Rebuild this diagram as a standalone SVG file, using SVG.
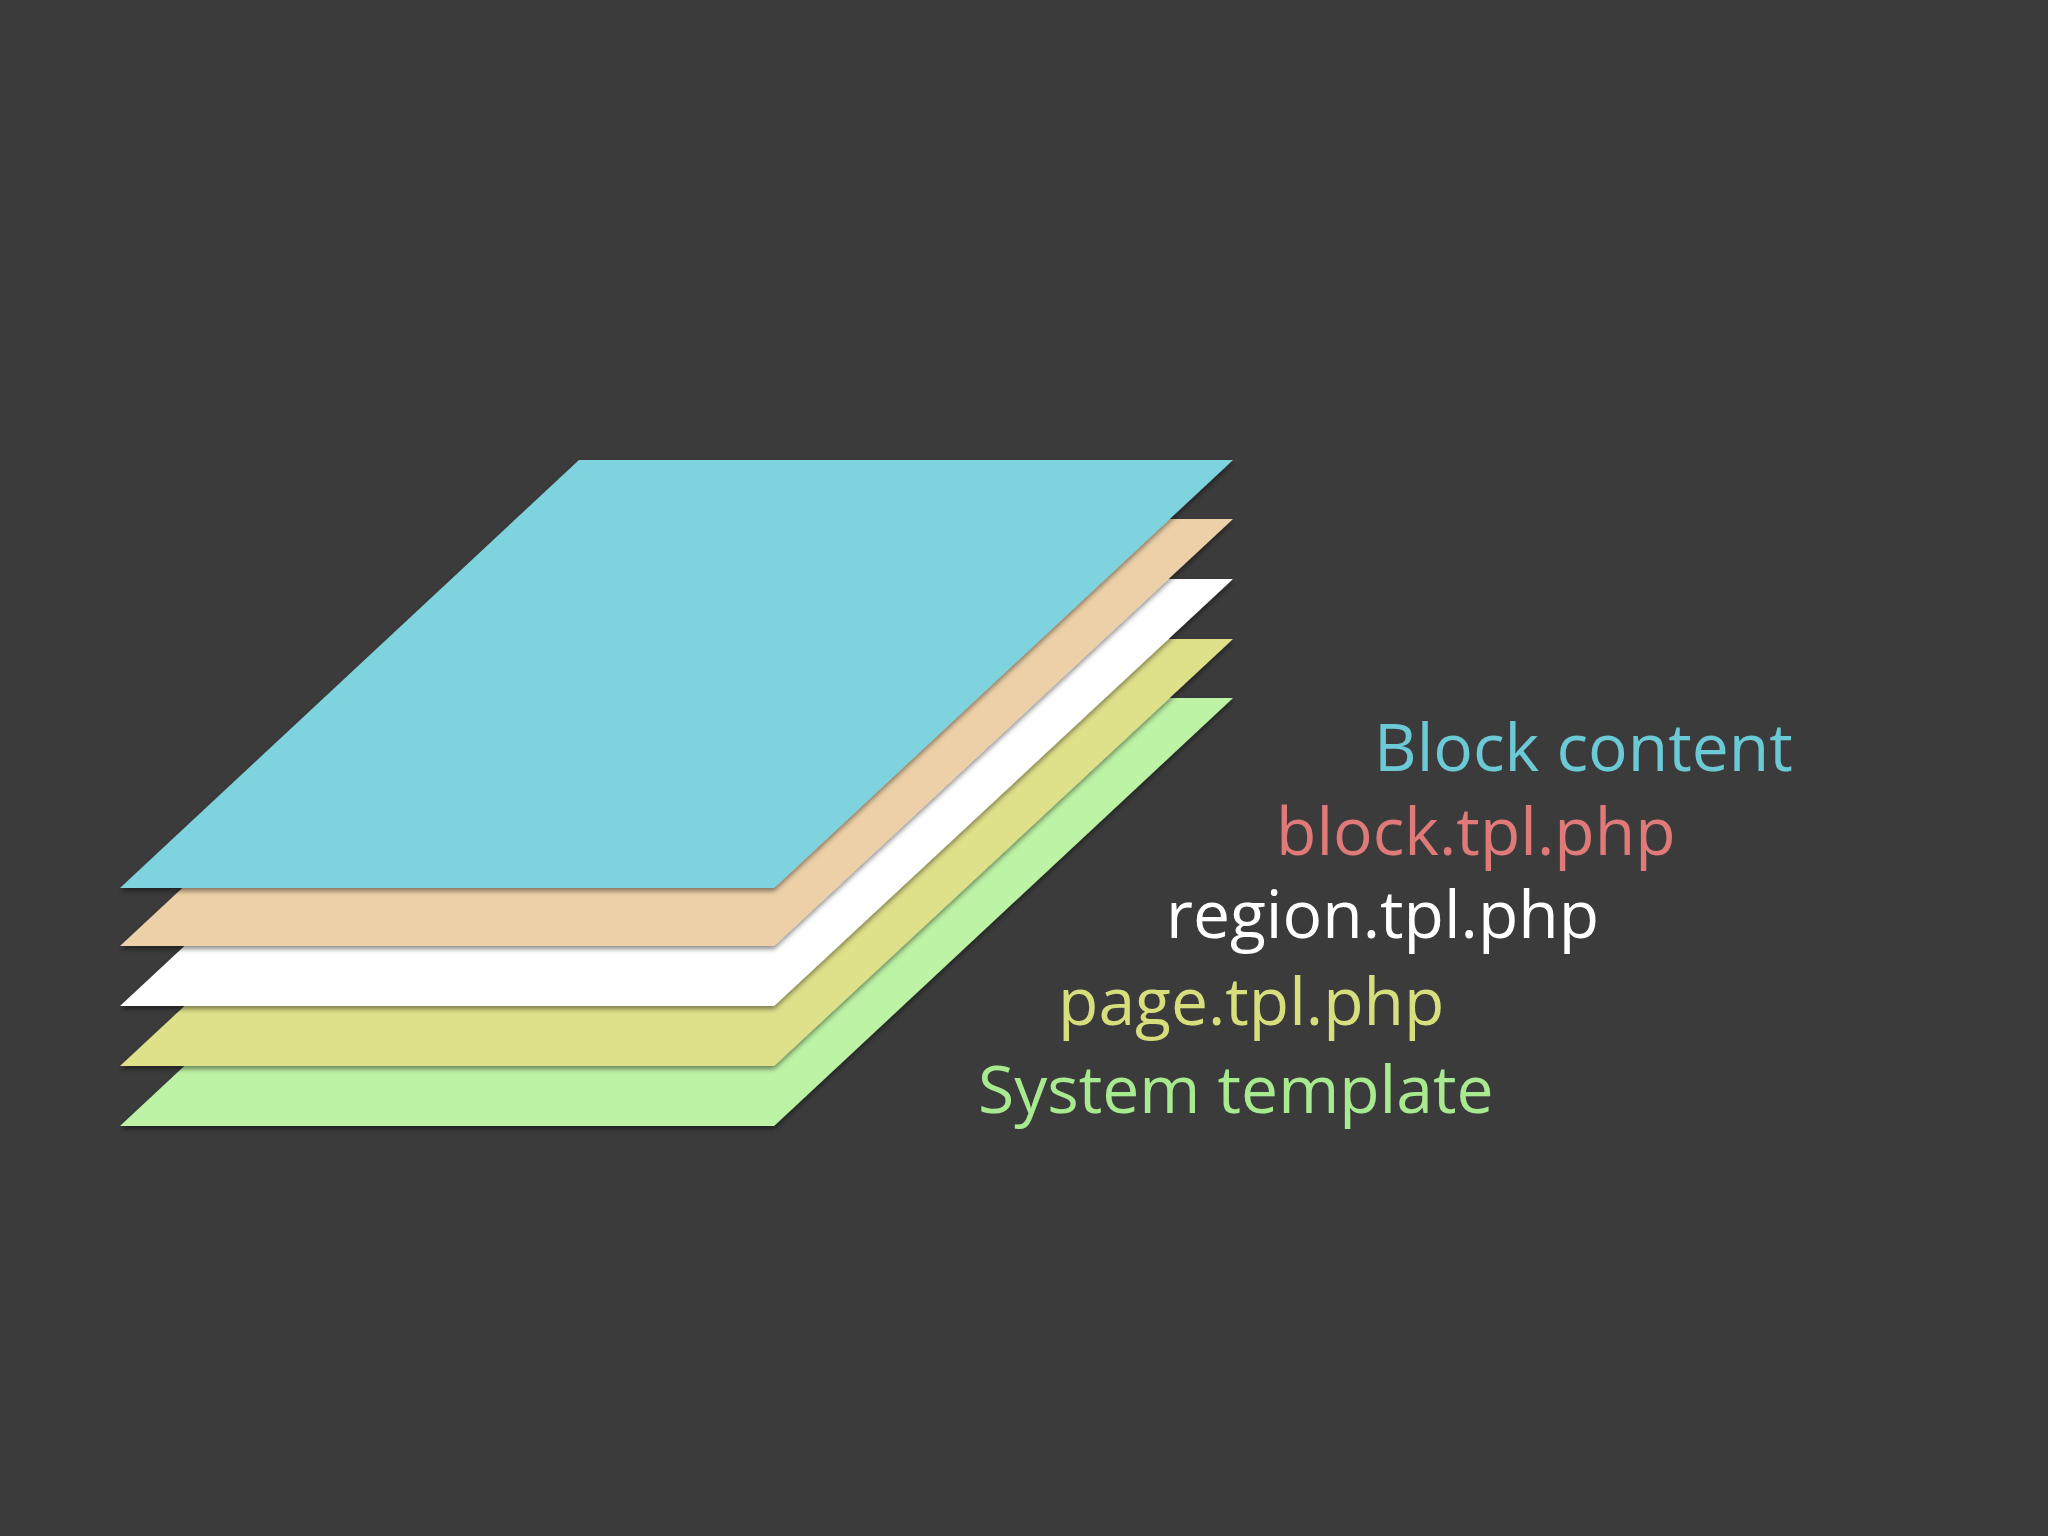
<svg xmlns="http://www.w3.org/2000/svg" width="2048" height="1536" viewBox="0 0 2048 1536">
<defs>
<filter id="sh" x="-10%" y="-10%" width="120%" height="130%">
<feDropShadow dx="0" dy="3" stdDeviation="2.5" flood-color="#000" flood-opacity="0.45"/>
</filter>
</defs>
<style>
.l{filter:url(#sh)}
text{font-family:"Open Sans","Noto Sans",sans-serif;font-size:66px}
</style>
<rect width="2048" height="1536" fill="#3b3b3c"/>
<g id="layer-system"><polygon class="l" points="579,698 1233,698 774,1126 120,1126" fill="#bdf3a5"/></g>
<g id="layer-page"><polygon class="l" points="579,639 1233,639 774,1066 120,1066" fill="#dfe08a"/></g>
<g id="layer-region"><polygon class="l" points="579,579 1233,579 774,1006 120,1006" fill="#ffffff"/></g>
<g id="layer-block"><polygon class="l" points="579,519 1233,519 774,946 120,946" fill="#edd0a8"/></g>
<g id="layer-content"><polygon class="l" points="579,460 1233,460 774,888 120,888" fill="#7fd3df"/></g>
<g id="labels">
<text x="1374" y="771" fill="#6ccad6">Block content</text>
<text x="1276" y="855" fill="#df7a78">block.tpl.php</text>
<text x="1166" y="938" fill="#ffffff">region.tpl.php</text>
<text x="1058" y="1025" fill="#d7df7c">page.tpl.php</text>
<text x="978" y="1113" fill="#a8ea8f">System template</text>
</g>
</svg>
